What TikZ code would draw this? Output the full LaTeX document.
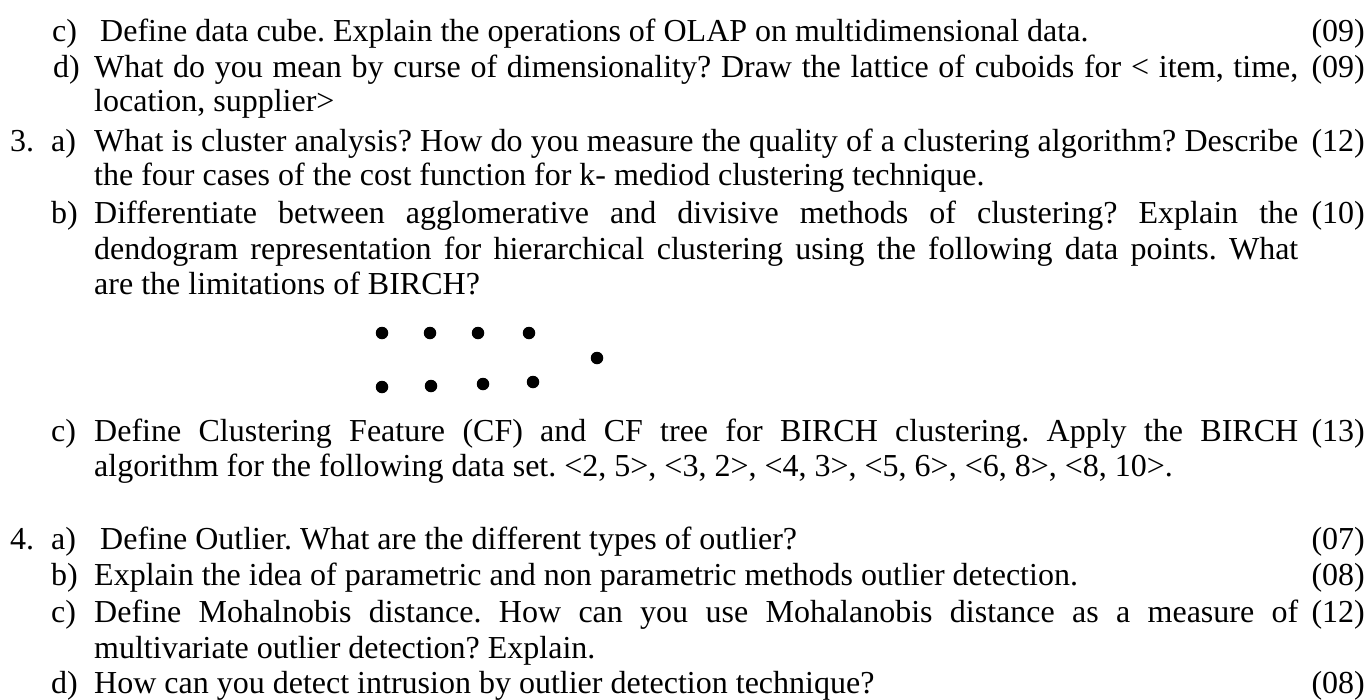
\documentclass[tikz,border=0pt]{standalone}
\usepackage{fontspec}
\setmainfont{Liberation Serif}
\usetikzlibrary{positioning}
\frenchspacing

\tikzset{
  qline/.style={anchor=base west, inner sep=0pt, font=\fontsize{32}{36}\selectfont},
  qmark/.style={anchor=base east, inner sep=0pt, font=\fontsize{32}{36}\selectfont},
  qdot/.style={circle, fill=black, inner sep=0pt, minimum size=12.5pt}
}
% justified line of fixed width
\newcommand{\jline}[1]{\makebox[1204pt][s]{#1}}

\begin{document}
\begin{tikzpicture}[x=1pt,y=-1pt]
\useasboundingbox (0,0) rectangle (1371,699);
% question 2 (end)
\node[qline] (l2c) at (52,41) {c)};
\node[qline] (t2c) at (100,41) {Define data cube. Explain the operations of OLAP on multidimensional data.};
\node[qmark] (m2c) at (1365,41) {(09)};
\node[qline] (l2d) at (53,77) {d)};
\node[qline] (t2d) at (94,77) {\jline{What do you mean by curse of dimensionality? Draw the lattice of cuboids for < item, time,}};
\node[qmark] (m2d) at (1365,77) {(09)};
\node[qline] (t2d2) at (94,111) {location, supplier>};
% question 3
\node[qline] (n3) at (10,151) {3.};
\node[qline] (l3a) at (51,151) {a)};
\node[qline] (t3a) at (94,151) {\jline{What is cluster analysis? How do you measure the quality of a clustering algorithm? Describe}};
\node[qmark] (m3a) at (1365,151) {(12)};
\node[qline] (t3a2) at (94,185) {the four cases of the cost function for k- mediod clustering technique.};
\node[qline] (l3b) at (51,223) {b)};
\node[qline] (t3b) at (94,223) {\jline{Differentiate between agglomerative and divisive methods of clustering? Explain the}};
\node[qmark] (m3b) at (1365,223) {(10)};
\node[qline] (t3b2) at (94,259) {\jline{dendogram representation for hierarchical clustering using the following data points. What}};
\node[qline] (t3b3) at (94,294) {are the limitations of BIRCH?};
% data points
\foreach \px/\py [count=\i] in {382/333, 430/333, 478/333, 529/333, 597/358, 382/387, 431/386, 483/384, 533/382}
  \node[qdot] (p\i) at (\px,\py) {};
\node[qline] (l3c) at (51,441) {c)};
\node[qline] (t3c) at (94,441) {\jline{Define Clustering Feature (CF) and CF tree for BIRCH clustering. Apply the BIRCH}};
\node[qmark] (m3c) at (1365,441) {(13)};
\node[qline] (t3c2) at (94,476) {algorithm for the following data set. <2, 5>, <3, 2>, <4, 3>, <5, 6>, <6, 8>, <8, 10>.};
% question 4
\node[qline] (n4) at (10,549) {4.};
\node[qline] (l4a) at (51,549) {a)};
\node[qline] (t4a) at (100,549) {Define Outlier. What are the different types of outlier?};
\node[qmark] (m4a) at (1365,549) {(07)};
\node[qline] (l4b) at (51,585) {b)};
\node[qline] (t4b) at (94,585) {Explain the idea of parametric and non parametric methods outlier detection.};
\node[qmark] (m4b) at (1365,585) {(08)};
\node[qline] (l4c) at (51,622) {c)};
\node[qline] (t4c) at (94,622) {\jline{Define Mohalnobis distance. How can you use Mohalanobis distance as a measure of}};
\node[qmark] (m4c) at (1365,622) {(12)};
\node[qline] (t4c2) at (94,658) {multivariate outlier detection? Explain.};
\node[qline] (l4d) at (51,693) {d)};
\node[qline] (t4d) at (94,693) {How can you detect intrusion by outlier detection technique?};
\node[qmark] (m4d) at (1365,693) {(08)};
\end{tikzpicture}
\end{document}
